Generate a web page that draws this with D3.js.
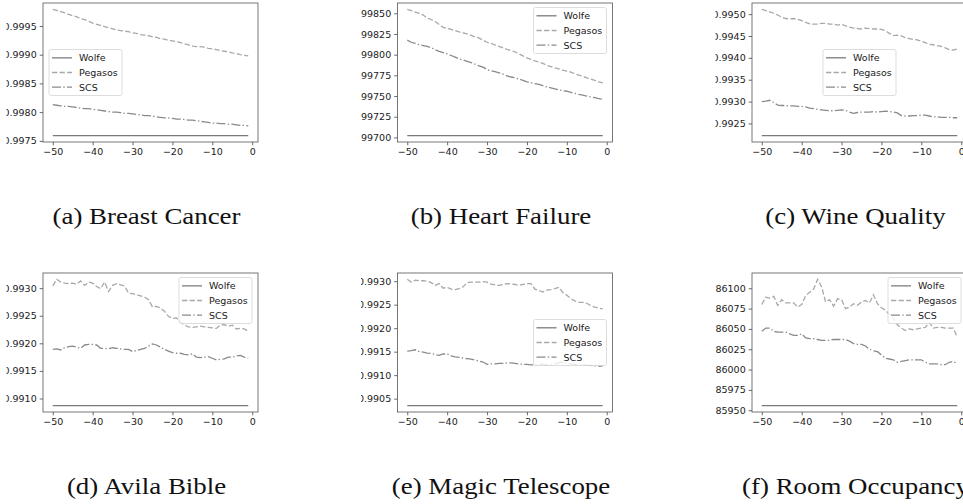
<!DOCTYPE html>
<html>
<head>
<meta charset="utf-8">
<script src="https://cdn.jsdelivr.net/npm/d3@7"></script>
<style>
  body { margin: 0; background: #fff; }
  svg { display: block; }
</style>
</head>
<body>
<svg id="chart" width="963" height="504"></svg>
<script>
// iteration steps shared by every panel
const steps = [-50, -49, -48, -47, -46, -45, -44, -43, -42, -41, -40, -39, -38, -37, -36, -35, -34, -33, -32, -31,
  -30, -29, -28, -27, -26, -25, -24, -23, -22, -21, -20, -19, -18, -17, -16, -15, -14, -13, -12, -11,
  -10, -9, -8, -7, -6, -5, -4, -3, -2, -1];
const xTicks = [-50, -40, -30, -20, -10, 0];
const seriesNames = ['Wolfe', 'Pegasos', 'SCS'];

// (a) Breast Cancer
const cancerWolfe = 0.99759;
const cancerPegasos = [0.99979, 0.99977, 0.99975, 0.99973, 0.99970, 0.99968, 0.99966, 0.99963, 0.99961, 0.99958,
  0.99955, 0.99953, 0.99951, 0.99949, 0.99947, 0.99945, 0.99943, 0.99942, 0.99941, 0.99940,
  0.99938, 0.99937, 0.99935, 0.99934, 0.99933, 0.99931, 0.99930, 0.99928, 0.99927, 0.99925,
  0.99924, 0.99923, 0.99921, 0.99919, 0.99917, 0.99915, 0.99914, 0.99914, 0.99913, 0.99911,
  0.99910, 0.99909, 0.99907, 0.99906, 0.99905, 0.99903, 0.99902, 0.99900, 0.99899, 0.99898];
const cancerScs = [0.99813, 0.99812, 0.99811, 0.99810, 0.99810, 0.99809, 0.99808, 0.99807, 0.99806, 0.99806,
  0.99805, 0.99804, 0.99803, 0.99802, 0.99801, 0.99800, 0.99800, 0.99799, 0.99798, 0.99798,
  0.99797, 0.99796, 0.99795, 0.99794, 0.99794, 0.99793, 0.99792, 0.99791, 0.99790, 0.99790,
  0.99789, 0.99788, 0.99788, 0.99787, 0.99786, 0.99786, 0.99785, 0.99784, 0.99783, 0.99782,
  0.99781, 0.99781, 0.99780, 0.99780, 0.99779, 0.99779, 0.99778, 0.99777, 0.99777, 0.99776];
const cancerTicks = [0.9975, 0.9980, 0.9985, 0.9990, 0.9995];

// (b) Heart Failure
const heartWolfe = 0.997021;
const heartPegasos = [0.998548, 0.998533, 0.998515, 0.998500, 0.998478, 0.998440, 0.998425, 0.998400, 0.998365, 0.998330,
  0.998318, 0.998305, 0.998290, 0.998275, 0.998262, 0.998250, 0.998233, 0.998215, 0.998200, 0.998175,
  0.998150, 0.998135, 0.998118, 0.998100, 0.998082, 0.998065, 0.998050, 0.998035, 0.998010, 0.997985,
  0.997960, 0.997942, 0.997925, 0.997910, 0.997895, 0.997870, 0.997855, 0.997840, 0.997828, 0.997812,
  0.997800, 0.997790, 0.997770, 0.997752, 0.997740, 0.997720, 0.997705, 0.997690, 0.997672, 0.997658];
const heartScs = [0.998175, 0.998150, 0.998135, 0.998120, 0.998110, 0.998100, 0.998085, 0.998060, 0.998040, 0.998025,
  0.998010, 0.997990, 0.997970, 0.997950, 0.997935, 0.997920, 0.997905, 0.997885, 0.997865, 0.997850,
  0.997820, 0.997805, 0.997795, 0.997780, 0.997765, 0.997745, 0.997730, 0.997720, 0.997705, 0.997690,
  0.997672, 0.997660, 0.997650, 0.997640, 0.997625, 0.997610, 0.997600, 0.997588, 0.997575, 0.997565,
  0.997558, 0.997545, 0.997532, 0.997520, 0.997510, 0.997500, 0.997490, 0.997480, 0.997470, 0.997460];
const heartTicks = [0.99700, 0.99725, 0.99750, 0.99775, 0.99800, 0.99825, 0.99850];

// (c) Wine Quality
const wineWolfe = 0.99222;
const winePegasos = [0.99511, 0.99508, 0.99505, 0.99502, 0.99498, 0.99493, 0.99490, 0.99489, 0.99490, 0.99488,
  0.99485, 0.99481, 0.99478, 0.99477, 0.99477, 0.99479, 0.99479, 0.99477, 0.99477, 0.99475,
  0.99477, 0.99473, 0.99470, 0.99468, 0.99467, 0.99466, 0.99468, 0.99467, 0.99466, 0.99466,
  0.99465, 0.99462, 0.99456, 0.99451, 0.99452, 0.99450, 0.99446, 0.99444, 0.99442, 0.99441,
  0.99438, 0.99435, 0.99431, 0.99430, 0.99428, 0.99426, 0.99423, 0.99419, 0.99418, 0.99420];
const wineScs = [0.99300, 0.99301, 0.99303, 0.99298, 0.99292, 0.99291, 0.99291, 0.99290, 0.99290, 0.99289,
  0.99289, 0.99288, 0.99285, 0.99284, 0.99282, 0.99281, 0.99280, 0.99279, 0.99279, 0.99280,
  0.99281, 0.99280, 0.99276, 0.99273, 0.99275, 0.99276, 0.99276, 0.99276, 0.99277, 0.99276,
  0.99277, 0.99278, 0.99277, 0.99276, 0.99274, 0.99268, 0.99267, 0.99267, 0.99268, 0.99268,
  0.99269, 0.99269, 0.99267, 0.99265, 0.99265, 0.99264, 0.99264, 0.99264, 0.99263, 0.99263];
const wineTicks = [0.9925, 0.9930, 0.9935, 0.9940, 0.9945, 0.9950];

// (d) Avila Bible
const avilaWolfe = 0.99087;
const avilaPegasos = [0.99304, 0.99316, 0.99311, 0.99309, 0.99308, 0.99309, 0.99307, 0.99313, 0.99305, 0.99311,
  0.99309, 0.99303, 0.99299, 0.99311, 0.99294, 0.99305, 0.99308, 0.99306, 0.99304, 0.99291,
  0.99290, 0.99288, 0.99286, 0.99284, 0.99279, 0.99266, 0.99267, 0.99264, 0.99258, 0.99249,
  0.99245, 0.99246, 0.99239, 0.99233, 0.99230, 0.99229, 0.99230, 0.99231, 0.99230, 0.99229,
  0.99228, 0.99227, 0.99233, 0.99234, 0.99231, 0.99233, 0.99226, 0.99227, 0.99226, 0.99222];
const avilaScs = [0.99189, 0.99190, 0.99188, 0.99192, 0.99194, 0.99195, 0.99193, 0.99191, 0.99197, 0.99198,
  0.99198, 0.99197, 0.99191, 0.99191, 0.99190, 0.99192, 0.99191, 0.99190, 0.99189, 0.99189,
  0.99185, 0.99187, 0.99189, 0.99191, 0.99195, 0.99199, 0.99197, 0.99193, 0.99189, 0.99186,
  0.99183, 0.99182, 0.99182, 0.99180, 0.99179, 0.99181, 0.99175, 0.99174, 0.99175, 0.99176,
  0.99173, 0.99170, 0.99171, 0.99172, 0.99175, 0.99175, 0.99177, 0.99178, 0.99175, 0.99173];
const avilaTicks = [0.9910, 0.9915, 0.9920, 0.9925, 0.9930];

// (e) Magic Telescope
const magicWolfe = 0.99035;
const magicPegasos = [0.99304, 0.99298, 0.99302, 0.99301, 0.99301, 0.99300, 0.99297, 0.99291, 0.99295, 0.99285,
  0.99287, 0.99283, 0.99282, 0.99284, 0.99288, 0.99297, 0.99298, 0.99298, 0.99298, 0.99299,
  0.99298, 0.99294, 0.99292, 0.99291, 0.99293, 0.99295, 0.99294, 0.99293, 0.99291, 0.99293,
  0.99295, 0.99295, 0.99283, 0.99280, 0.99277, 0.99281, 0.99282, 0.99284, 0.99287, 0.99276,
  0.99270, 0.99263, 0.99258, 0.99255, 0.99255, 0.99253, 0.99248, 0.99245, 0.99243, 0.99241];
const magicScs = [0.99151, 0.99152, 0.99154, 0.99150, 0.99149, 0.99147, 0.99146, 0.99144, 0.99142, 0.99145,
  0.99145, 0.99141, 0.99139, 0.99138, 0.99136, 0.99135, 0.99134, 0.99132, 0.99130, 0.99128,
  0.99123, 0.99124, 0.99124, 0.99125, 0.99125, 0.99126, 0.99126, 0.99125, 0.99124, 0.99123,
  0.99123, 0.99122, 0.99122, 0.99123, 0.99123, 0.99122, 0.99122, 0.99124, 0.99126, 0.99128,
  0.99126, 0.99124, 0.99123, 0.99122, 0.99122, 0.99121, 0.99121, 0.99120, 0.99119, 0.99120];
const magicTicks = [0.9905, 0.9910, 0.9915, 0.9920, 0.9925, 0.9930];

// (f) Room Occupancy
const roomWolfe = 0.859556;
const roomPegasos = [0.86080, 0.86089, 0.86088, 0.86090, 0.86079, 0.86086, 0.86082, 0.86082, 0.86082, 0.86077,
  0.86080, 0.86091, 0.86095, 0.86099, 0.86111, 0.86102, 0.86083, 0.86086, 0.86078, 0.86087,
  0.86086, 0.86075, 0.86077, 0.86081, 0.86079, 0.86083, 0.86085, 0.86082, 0.86092, 0.86081,
  0.86076, 0.86073, 0.86068, 0.86063, 0.86055, 0.86051, 0.86048, 0.86050, 0.86049, 0.86050,
  0.86051, 0.86052, 0.86058, 0.86051, 0.86052, 0.86052, 0.86051, 0.86051, 0.86051, 0.86040];
const roomScs = [0.86047, 0.86051, 0.86051, 0.86047, 0.86046, 0.86046, 0.86046, 0.86044, 0.86042, 0.86042,
  0.86044, 0.86039, 0.86038, 0.86038, 0.86037, 0.86036, 0.86036, 0.86036, 0.86037, 0.86037,
  0.86037, 0.86037, 0.86035, 0.86032, 0.86031, 0.86031, 0.86029, 0.86025, 0.86023, 0.86022,
  0.86018, 0.86014, 0.86013, 0.86012, 0.86009, 0.86010, 0.86011, 0.86012, 0.86012, 0.86012,
  0.86012, 0.86009, 0.86007, 0.86007, 0.86007, 0.86006, 0.86006, 0.86009, 0.86010, 0.86007];
const roomTicks = [0.85950, 0.85975, 0.86000, 0.86025, 0.86050, 0.86075, 0.86100];

const panels = [
  { caption: '(a) Breast Cancer', wolfe: cancerWolfe, pegasos: cancerPegasos, scs: cancerScs, ticks: cancerTicks, fmt: '.4f', legend: 'center left' },
  { caption: '(b) Heart Failure', wolfe: heartWolfe, pegasos: heartPegasos, scs: heartScs, ticks: heartTicks, fmt: '.5f', legend: 'upper right' },
  { caption: '(c) Wine Quality', wolfe: wineWolfe, pegasos: winePegasos, scs: wineScs, ticks: wineTicks, fmt: '.4f', legend: 'center' },
  { caption: '(d) Avila Bible', wolfe: avilaWolfe, pegasos: avilaPegasos, scs: avilaScs, ticks: avilaTicks, fmt: '.4f', legend: 'upper right' },
  { caption: '(e) Magic Telescope', wolfe: magicWolfe, pegasos: magicPegasos, scs: magicScs, ticks: magicTicks, fmt: '.4f', legend: 'center right' },
  { caption: '(f) Room Occupancy', wolfe: roomWolfe, pegasos: roomPegasos, scs: roomScs, ticks: roomTicks, fmt: '.5f', legend: 'upper right' }
];

// line styles, matplotlib-ish greys
const styles = {
  Wolfe: { color: '#7a7a7a', dash: null },
  Pegasos: { color: '#a8a8a8', dash: '5.3,2.3' },
  SCS: { color: '#8a8a8a', dash: '9,2.3,1.4,2.3' }
};

const colLeft = [43, 397.5, 752];
const rowTop = [3, 273];
const axW = 215;
const axH = 139;
const tickFont = 'DejaVu Sans, sans-serif';

const svg = d3.select('#chart');
svg.append('rect').attr('width', 963).attr('height', 504).attr('fill', '#fff');

panels.forEach((p, i) => {
  const col = i % 3;
  const row = Math.floor(i / 3);
  const left = colLeft[col];
  const top = rowTop[row];

  // each subfigure image is cropped a bit left of its tick labels
  const clipId = `clip-${i}`;
  svg.append('clipPath').attr('id', clipId)
    .append('rect')
    .attr('x', left - 36.5)
    .attr('y', top - 10)
    .attr('width', 330)
    .attr('height', axH + 40);

  const g = svg.append('g').attr('clip-path', `url(#${clipId})`);

  const series = [
    { name: 'Wolfe', values: steps.map(() => p.wolfe) },
    { name: 'Pegasos', values: p.pegasos },
    { name: 'SCS', values: p.scs }
  ];

  // 5% margins like matplotlib autoscale
  const all = series.flatMap(s => s.values);
  const lo = d3.min(all);
  const hi = d3.max(all);
  const pad = (hi - lo) * 0.05;
  const xPad = (d3.max(steps) - d3.min(steps)) * 0.05;

  const x = d3.scaleLinear()
    .domain([d3.min(steps) - xPad, d3.max(steps) + xPad])
    .range([left, left + axW]);
  const y = d3.scaleLinear()
    .domain([lo - pad, hi + pad])
    .range([top + axH, top]);

  const line = d3.line()
    .x((d, j) => x(steps[j]))
    .y(d => y(d));

  series.forEach(s => {
    g.append('path')
      .datum(s.values)
      .attr('d', line)
      .attr('fill', 'none')
      .attr('stroke', styles[s.name].color)
      .attr('stroke-width', 1.3)
      .attr('stroke-dasharray', styles[s.name].dash);
  });

  // axes
  const yAxis = g.append('g')
    .attr('transform', `translate(${left}, 0)`)
    .call(d3.axisLeft(y).tickValues(p.ticks).tickFormat(d3.format(p.fmt)).tickSize(3.3).tickPadding(3));
  const xAxis = g.append('g')
    .attr('transform', `translate(0, ${top + axH})`)
    .call(d3.axisBottom(x).tickValues(xTicks).tickFormat(d3.format('d')).tickSize(3.3).tickPadding(2.6));

  [yAxis, xAxis].forEach(a => {
    a.select('.domain').remove();
    a.selectAll('.tick line').attr('stroke', '#444').attr('stroke-width', 0.8);
    a.selectAll('.tick text')
      .attr('fill', '#1a1a1a')
      .style('font-family', tickFont)
      .style('font-size', '9.5px');
  });

  // legend
  const lw = 73;
  const lh = 46;
  let lx = left + axW - 6 - lw;
  let ly = top + 4.5;
  if (p.legend === 'center left') { lx = left + 6; ly = top + (axH - lh) / 2; }
  if (p.legend === 'center') { lx = left + (axW - lw) / 2; ly = top + (axH - lh) / 2; }
  if (p.legend === 'center right') { ly = top + (axH - lh) / 2; }

  const legend = g.append('g').attr('transform', `translate(${lx}, ${ly})`);
  legend.append('rect')
    .attr('width', lw)
    .attr('height', lh)
    .attr('rx', 2)
    .attr('fill', '#fff')
    .attr('fill-opacity', 0.8)
    .attr('stroke', '#d4d4d4')
    .attr('stroke-width', 0.8);

  seriesNames.forEach((name, k) => {
    const ry = 8.3 + k * 14.7;
    legend.append('line')
      .attr('x1', 3).attr('x2', 23)
      .attr('y1', ry).attr('y2', ry)
      .attr('stroke', styles[name].color)
      .attr('stroke-width', 1.3)
      .attr('stroke-dasharray', styles[name].dash);
    legend.append('text')
      .attr('x', 30)
      .attr('y', ry)
      .attr('dy', '0.35em')
      .attr('fill', '#1a1a1a')
      .style('font-family', tickFont)
      .style('font-size', '9.5px')
      .text(name);
  });

  // frame on top
  g.append('rect')
    .attr('x', left)
    .attr('y', top)
    .attr('width', axW)
    .attr('height', axH)
    .attr('fill', 'none')
    .attr('stroke', '#555')
    .attr('stroke-width', 0.8);

  // subfigure caption, stretched a little to mimic Computer Modern widths
  svg.append('text')
    .attr('transform', `translate(${left + axW / 2 - 4}, ${top + axH + 82}) scale(1.12, 1)`)
    .attr('text-anchor', 'middle')
    .attr('fill', '#111')
    .style('font-family', 'Liberation Serif, serif')
    .style('font-size', '24px')
    .text(p.caption);
});
</script>
</body>
</html>
